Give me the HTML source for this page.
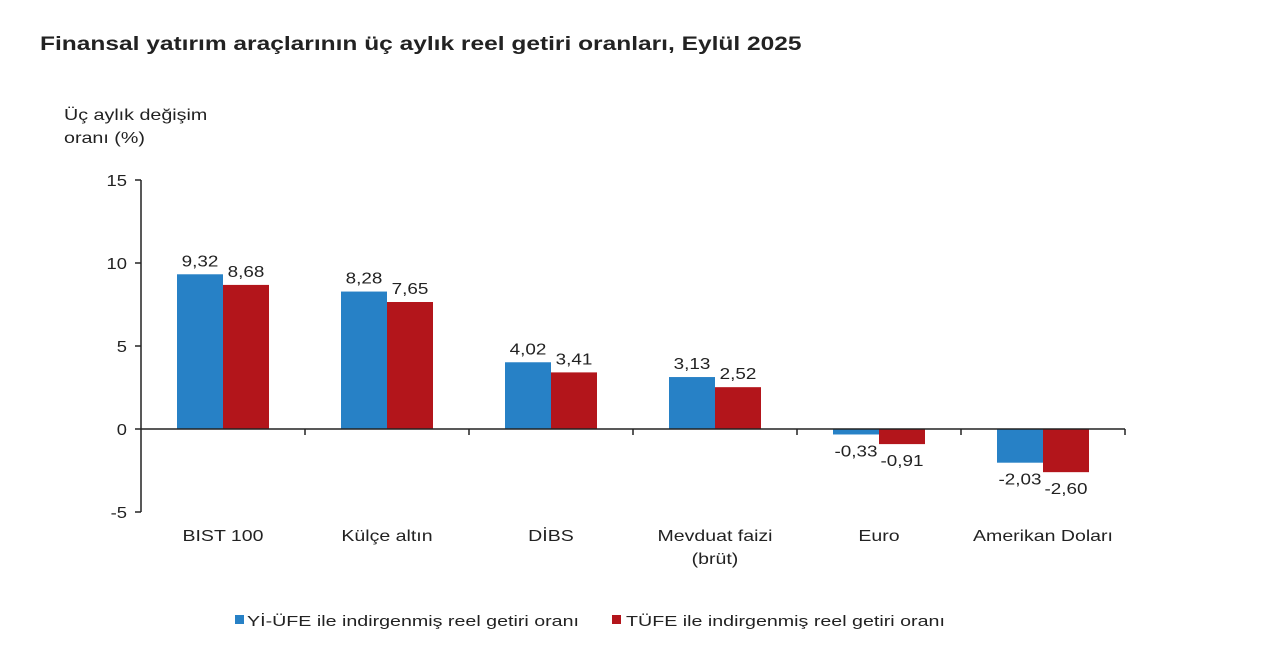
<!DOCTYPE html>
<html><head><meta charset="utf-8"><style>
html,body{margin:0;padding:0;background:#fff;width:1280px;height:668px;overflow:hidden}
svg text{font-family:"Liberation Sans",Arial,sans-serif;fill:#222}
</style></head><body>
<svg id="svg" width="1280" height="668">
<text x="40" y="50" font-size="19" font-weight="bold" data-stretch="1.29">Finansal yatırım araçlarının üç aylık reel getiri oranları, Eylül 2025</text>
<text x="64" y="120" font-size="16" data-stretch="1.23">Üç aylık değişim</text>
<text x="64" y="143" font-size="16" data-stretch="1.23">oranı (%)</text>
<g id="plot"></g>
<g>
<rect x="235" y="615" width="9" height="9" fill="#2781c6"/>
<text x="247" y="626" font-size="15" data-stretch="1.31">Yİ-ÜFE ile indirgenmiş reel getiri oranı</text>
<rect x="612" y="615" width="9" height="9" fill="#b3151b"/>
<text x="626" y="626" font-size="15" data-stretch="1.31">TÜFE ile indirgenmiş reel getiri oranı</text>
</g>
</svg>
<script>
const categories=[["BIST 100"],["Külçe altın"],["DİBS"],["Mevduat faizi","(brüt)"],["Euro"],["Amerikan Doları"]];
const yiufe=[9.32,8.28,4.02,3.13,-0.33,-2.03];
const tufe=[8.68,7.65,3.41,2.52,-0.91,-2.60];
const yTicks=[15,10,5,0,-5];
const ns="http://www.w3.org/2000/svg";
const g=document.getElementById("plot");
const X0=141,CW=164,Y0=429,PU=16.6,BW=46;
const y=v=>Y0-v*PU;
function mk(t,a){const e=document.createElementNS(ns,t);for(const k in a)e.setAttribute(k,a[k]);g.appendChild(e);return e;}
const fmt=v=>v.toFixed(2).replace(".",",");
categories.forEach((c,i)=>{
 const cx=X0+CW*(i+0.5);
 [[yiufe[i],cx-BW,"#2781c6","bar-yiufe-"+i],[tufe[i],cx,"#b3151b","bar-tufe-"+i]].forEach(([v,x,col,nm])=>{
  const r=mk("rect",{x:x,y:Math.min(y(v),Y0),width:BW,height:Math.abs(v*PU),fill:col});
  
  
  const ty=v>=0?y(v)-8:Y0-v*PU+22;
  const t=mk("text",{x:x+BW/2,y:ty,"font-size":16,"text-anchor":"middle","data-stretch":1.18});
  t.textContent=fmt(v);
  
  
 });
 c.forEach((line,j)=>{
  const t=mk("text",{x:cx,y:541+j*23,"font-size":16,"text-anchor":"middle","data-stretch":1.22});
  t.textContent=line;
  
  
 });
 if(i>0){const tk=mk("line",{x1:X0+CW*i,x2:X0+CW*i,y1:Y0,y2:Y0+6,stroke:"#222","stroke-width":1.5});
  
  }
});
const tk=mk("line",{x1:X0+CW*6,x2:X0+CW*6,y1:Y0,y2:Y0+6,stroke:"#222","stroke-width":1.5});


const ax=mk("line",{x1:X0,x2:X0,y1:y(15),y2:y(-5),stroke:"#222","stroke-width":1.5});


const zl=mk("line",{x1:X0,x2:X0+CW*6,y1:Y0,y2:Y0,stroke:"#222","stroke-width":1.5});


yTicks.forEach(v=>{
 const l=mk("line",{x1:X0-6,x2:X0,y1:y(v),y2:y(v),stroke:"#222","stroke-width":1.5});
 
 
 const t=mk("text",{x:X0-14,y:y(v)+6,"font-size":16,"text-anchor":"end","data-stretch":1.15});
 t.textContent=v;
 
 
});
document.querySelectorAll("text[data-stretch]").forEach(t=>{
 const f=parseFloat(t.getAttribute("data-stretch"));
 const L=t.getComputedTextLength();
 t.setAttribute("textLength",(L*f).toFixed(1));
 t.setAttribute("lengthAdjust","spacingAndGlyphs");
});
</script>
</body></html>
